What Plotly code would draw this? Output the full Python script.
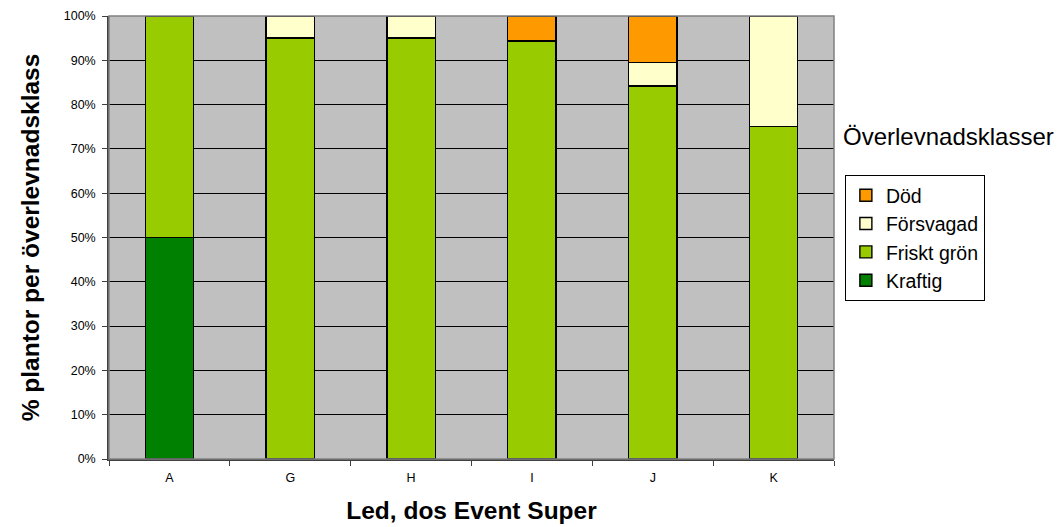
import plotly.graph_objects as go

categories = ["A", "G", "H", "I", "J", "K"]
kraftig = [50, 0, 0, 0, 0, 0]
friskt_gron = [50, 95, 95, 94.4, 84.2, 75]
forsvagad = [0, 5, 5, 0, 5.3, 25]
dod = [0, 0, 0, 5.6, 10.5, 0]

series = [
    ("Kraftig", kraftig, "#008000", 4),
    ("Friskt grön", friskt_gron, "#99CC00", 3),
    ("Försvagad", forsvagad, "#FFFFCC", 2),
    ("Död", dod, "#FF9900", 1),
]

FONT = "Liberation Sans, Arial, sans-serif"

fig = go.Figure()
for name, vals, color, rank in series:
    fig.add_trace(go.Bar(
        x=categories, y=vals, name=name, legendrank=rank,
        marker=dict(color=color, line=dict(color="#000000", width=1.4)),
        hoverinfo="skip",
    ))

# page body has an 8px margin: figure is 1055x519 placed at (8,8)
fig.update_layout(
    width=1055, height=519,
    barmode="stack", bargap=0.6,
    paper_bgcolor="white", plot_bgcolor="#C0C0C0",
    margin=dict(l=101, r=229, t=8, b=68, autoexpand=False),
    font=dict(family=FONT, color="black"),
    showlegend=True,
    legend=dict(
        x=1.015, y=0.641, xanchor="left", yanchor="top",
        traceorder="normal", itemwidth=30,
        bordercolor="#000000", borderwidth=1, bgcolor="white",
        font=dict(size=19.5, family=FONT),
        itemclick=False,
    ),
    annotations=[dict(
        text="Överlevnadsklasser", xref="paper", yref="paper",
        x=1.0097, y=0.729, xanchor="left", yanchor="middle",
        showarrow=False, font=dict(size=24, family=FONT),
    )],
    shapes=[dict(type="rect", xref="paper", yref="paper", x0=0, y0=0, x1=1, y1=1,
                 line=dict(color="#808080", width=1.5), layer="above")],
)

fig.update_xaxes(
    type="category", tickson="boundaries", ticks="outside", ticklen=5,
    tickcolor="#404040", showline=True, linecolor="#404040", linewidth=1.5,
    tickfont=dict(size=12.5), ticklabelstandoff=6, showgrid=False, automargin=False,
    title=dict(text="<b>Led, dos Event Super</b>", font=dict(size=24.5), standoff=18),
)
fig.update_yaxes(
    range=[0, 100], dtick=10, ticksuffix="%", ticks="outside", ticklen=5,
    tickcolor="#404040", showline=True, linecolor="#404040", linewidth=1.5,
    tickfont=dict(size=12.5), ticklabelstandoff=4, showgrid=True, gridcolor="#000000", gridwidth=1,
    zeroline=False, automargin=False,
    title=dict(text="<b>% plantor per överlevnadsklass</b>", font=dict(size=24.5), standoff=17),
)

fig.write_html("out.html")
